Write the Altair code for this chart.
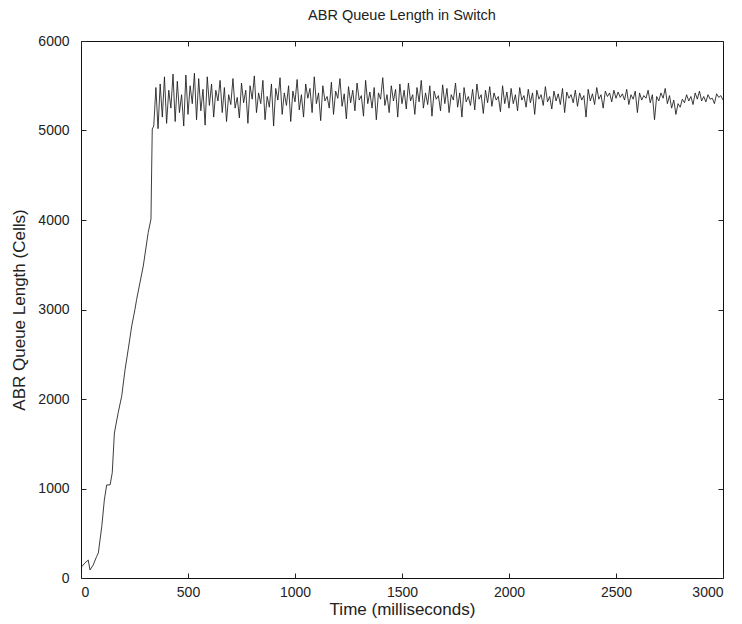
import altair as alt
import pandas as pd

# Ramp-up phase (time ms, queue cells)
ramp_t = [3, 19, 34, 42, 57, 73, 81, 97, 109, 120, 136, 146, 156, 174, 190,
          206, 221, 237, 252, 260, 291, 314, 327, 330, 333]
ramp_q = [125, 170, 200, 90, 145, 240, 280, 575, 870, 1040, 1040, 1175, 1620,
          1850, 2030, 2330, 2560, 2815, 3000, 3113, 3486, 3860, 4010, 4535, 5017]

# Oscillating phase, sampled every 10 ms from 340 ms to 3000 ms
osc_t = list(range(340, 3001, 10))
osc_q = [
    5050, 5480, 5020, 5520, 5150, 5600, 5080, 5450, 5250, 5630,
    5100, 5550, 5200, 5400, 5050, 5620, 5180, 5500, 5300, 5640,
    5120, 5580, 5220, 5460, 5060, 5600, 5280,
    5520, 5150, 5450, 5330, 5560, 5200, 5480, 5100, 5400, 5290,
    5580, 5250, 5370, 5140, 5530, 5310, 5450, 5080, 5500, 5350,
    5610, 5200, 5420, 5300, 5560, 5120, 5380, 5260, 5520, 5050,
    5470, 5340, 5590, 5180, 5420, 5280, 5500, 5100, 5440, 5320,
    5570, 5230, 5400, 5150, 5520, 5360, 5470, 5200, 5600, 5300,
    5420, 5110, 5500, 5330, 5380, 5250, 5540, 5180, 5440, 5360,
    5580, 5270, 5410, 5130, 5490, 5310, 5450, 5220, 5530, 5340,
    5390, 5160, 5560, 5300, 5430, 5250, 5480, 5120, 5420, 5350,
    5590, 5280, 5400, 5200, 5500, 5330, 5460, 5150, 5520, 5300,
    5450, 5240, 5530, 5330, 5400, 5180, 5480, 5320, 5560, 5250,
    5420, 5290, 5500, 5160, 5440, 5350, 5390, 5220, 5510, 5300,
    5470, 5200, 5400, 5340, 5530, 5260, 5420, 5150, 5480, 5320,
    5380, 5280, 5460, 5230, 5520, 5350, 5400, 5190, 5450, 5310,
    5490, 5270, 5420, 5340, 5380, 5210, 5500, 5300, 5430, 5250,
    5470, 5300, 5400, 5220, 5480, 5340, 5390, 5260, 5460, 5310,
    5420, 5180, 5450, 5350, 5400, 5280, 5490, 5320, 5380, 5240,
    5440, 5330, 5410, 5290, 5470, 5200, 5430, 5360, 5400, 5310,
    5450, 5270, 5420, 5340, 5390, 5150, 5460, 5330, 5410, 5290,
    5480, 5350, 5400, 5250, 5440, 5380, 5420, 5320, 5450, 5360,
    5430, 5370, 5410, 5340, 5460, 5290, 5400, 5350, 5440, 5200,
    5420, 5340, 5390, 5360, 5450, 5310, 5400, 5120, 5380, 5330,
    5420, 5360, 5470, 5300, 5390, 5250, 5340, 5180, 5300, 5260,
    5350, 5310, 5400, 5330, 5380, 5290, 5420, 5350, 5440, 5330,
    5380, 5320, 5400, 5350, 5360, 5300, 5410, 5370, 5390, 5340,
]

x_ticks = [0, 500, 1000, 1500, 2000, 2500, 3000]
y_ticks = [0, 1000, 2000, 3000, 4000, 5000, 6000]

df = pd.DataFrame({"t": ramp_t + osc_t, "q": ramp_q + osc_q})

FONT = "Liberation Sans"

x_scale = alt.Scale(domain=[0, 3000], nice=False, zero=False)
y_scale = alt.Scale(domain=[0, 6000], nice=False)

common = dict(grid=False, domain=False, tickColor="#222", tickWidth=1,
              tickSize=5, offset=-5, format="d",
              labelFont=FONT, labelFontSize=14, labelColor="#222",
              titleFont=FONT, titleFontSize=17, titleFontWeight="normal",
              titleColor="#222")

base = alt.Chart(df)

main = base.mark_line(color="#1a1a1a", strokeWidth=0.85).encode(
    x=alt.X("t:Q", scale=x_scale,
            axis=alt.Axis(values=x_ticks, title="Time (milliseconds)",
                          orient="bottom", labelPadding=7, titlePadding=2,
                          **common)),
    y=alt.Y("q:Q", scale=y_scale,
            axis=alt.Axis(values=y_ticks, title="ABR Queue Length (Cells)",
                          orient="left", labelPadding=12, titlePadding=9,
                          **common)),
)

mirror = base.mark_line(opacity=0).encode(
    x=alt.X("t:Q", scale=x_scale,
            axis=alt.Axis(values=x_ticks, title=None, labels=False,
                          orient="top", **common)),
    y=alt.Y("q:Q", scale=y_scale,
            axis=alt.Axis(values=y_ticks, title=None, labels=False,
                          orient="right", **common)),
)

chart = alt.layer(main, mirror).resolve_axis(
    x="independent", y="independent"
).properties(
    width=642, height=537,
    background="white",
    autosize=alt.AutoSizeParams(type="none"),
    padding={"left": 81, "top": 41, "right": 19, "bottom": 46},
    title=alt.TitleParams("ABR Queue Length in Switch", font=FONT,
                          fontSize=14.5, fontWeight="normal", offset=11,
                          color="#222"),
).configure_view(
    stroke="#111", strokeWidth=1
)

chart.save("out.html", embed_options={"renderer": "svg", "actions": False})
